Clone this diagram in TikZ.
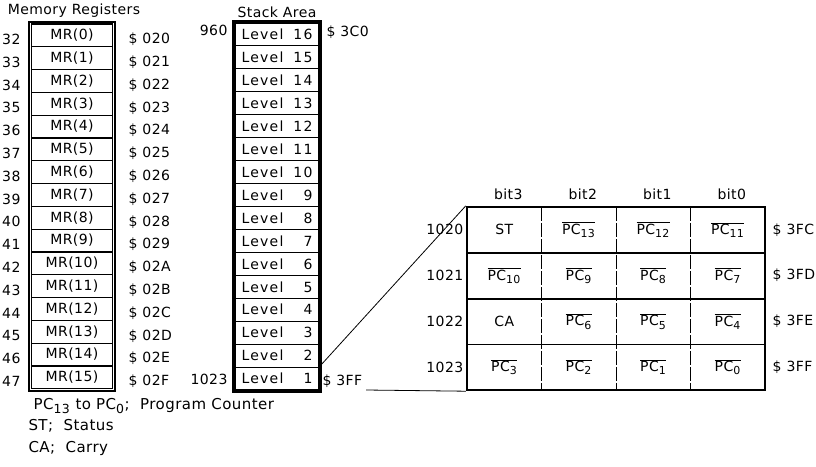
\documentclass[tikz,border=0pt]{standalone}
\usepackage{fontspec}
\setmainfont[LetterSpace=3]{DejaVu Sans}
\usetikzlibrary{positioning, fit}
\newcommand{\subsz}{\fontsize{11}{13}\selectfont}
\newcommand{\pcbar}[1]{$\overline{\mbox{PC}_{\mbox{\subsz #1}}}$}
\newcommand{\pcsub}[1]{PC$_{\mbox{\fontsize{12.5}{15}\selectfont #1}}$}

\begin{document}
\begin{tikzpicture}[x=1pt, y=-1pt, font=\fontsize{14}{16}\selectfont,
    mrcell/.style={draw, line width=1.1pt, minimum width=81pt, minimum height=22.8pt, inner sep=0pt},
    lvcell/.style={draw, line width=1.1pt, minimum width=84pt, minimum height=22.94pt, inner sep=0pt, text width=71pt,
        font=\fontsize{14}{16}\selectfont\addfontfeature{LetterSpace=9}},
    frame/.style={draw, line width=2pt, inner sep=1.5pt},
    bitcell/.style={minimum width=74.5pt, minimum height=45.75pt, inner sep=0pt},
    hsep/.style={line width=1.6pt},
    vsep/.style={line width=0.6pt, dash pattern=on 14pt off 2pt},
    legend/.style={anchor=west, font=\fontsize{15}{18}\selectfont}]
        \useasboundingbox (0,0) rectangle (816,466);
        % memory registers
        \node (mrtitle) at (74,11) {Memory Registers};
        \foreach \i/\h in {0/0,1/1,2/2,3/3,4/4,5/5,6/6,7/7,8/8,9/9,10/A,11/B,12/C,13/D,14/E,15/F} {
            \pgfmathtruncatemacro{\n}{32+\i}
            \node[mrcell] (mr\i) at (72, 24+22.8*\i+11.4) {MR(\i)};
            \node[anchor=east] (mrn\i) at (24, 24+22.8*\i+15.4) {\n};
            \node[anchor=west] (mra\i) at (125, 24+22.8*\i+15.4) {\$\hspace{5pt}02\h};
        }
        \node[frame, fit=(mr0)(mr15)] (mrbox) {};
        % stack area
        \node (sttitle) at (277,12) {Stack Area};
        \foreach \l in {1,...,16} {
            \node[lvcell] (lv\l) at (277, 23+22.94*16-22.94*\l+11.47) {Level\hfill\l};
        }
        \node[frame, fit=(lv16)(lv1)] (stbox) {};
        \node[anchor=east] (st960) at (231,30) {960};
        \node[anchor=west] (st3c0) at (323,32) {\$ 3C0};
        \node[anchor=east] (st1023) at (231,379) {1023};
        \node[anchor=west] (st3ff) at (319,381) {\$ 3FF};
        % bit table
        \foreach \txt [count=\k from 0] in {ST, \pcbar{13}, \pcbar{12}, \pcbar{11},
            \pcbar{10}, \pcbar{9}, \pcbar{8}, \pcbar{7},
            CA, \pcbar{6}, \pcbar{5}, \pcbar{4},
            \pcbar{3}, \pcbar{2}, \pcbar{1}, \pcbar{0}} {
            \pgfmathtruncatemacro{\r}{int(\k/4)}
            \pgfmathtruncatemacro{\c}{mod(\k,4)}
            \node[bitcell] (c-\r-\c) at (467+74.5*\c+37.25, 207+45.75*\r+22.875) {\txt};
        }
        \node[draw, line width=2pt, inner sep=0pt, fit=(c-0-0)(c-3-3)] (tbl) {};
        \foreach \r in {0,1,2}
            \draw[hsep] (c-\r-0.south west) -- (c-\r-3.south east);
        \foreach \c in {0,1,2}
            \draw[vsep] (c-0-\c.north east) -- (c-3-\c.south east);
        \foreach \c in {0,...,3} {
            \pgfmathtruncatemacro{\b}{3-\c}
            \node[above=4pt of c-0-\c, xshift=4pt] (bit\b) {bit\b};
        }
        \foreach \r/\h in {0/C,1/D,2/E,3/F} {
            \pgfmathtruncatemacro{\n}{1020+\r}
            \node[left=0pt of c-\r-0] (tn\r) {\n};
            \node[right=4pt of c-\r-3] (ta\r) {\$ 3F\h};
        }
        % connectors
        \coordinate (tail) at (366,390);
        \draw[line width=0.8pt] (lv1.north east) -- (tbl.north west);
        \draw[line width=0.8pt] (tail) -- (tbl.south west);
        % legend
        \node[legend] (lg1) at (30,406) {\pcsub{13} to \pcsub{0};\ \ Program Counter};
        \node[legend] (lg2) at (25,426) {ST;\ \ Status};
        \node[legend] (lg3) at (25,448) {CA;\ \ Carry};
    \end{tikzpicture}
\end{document}
